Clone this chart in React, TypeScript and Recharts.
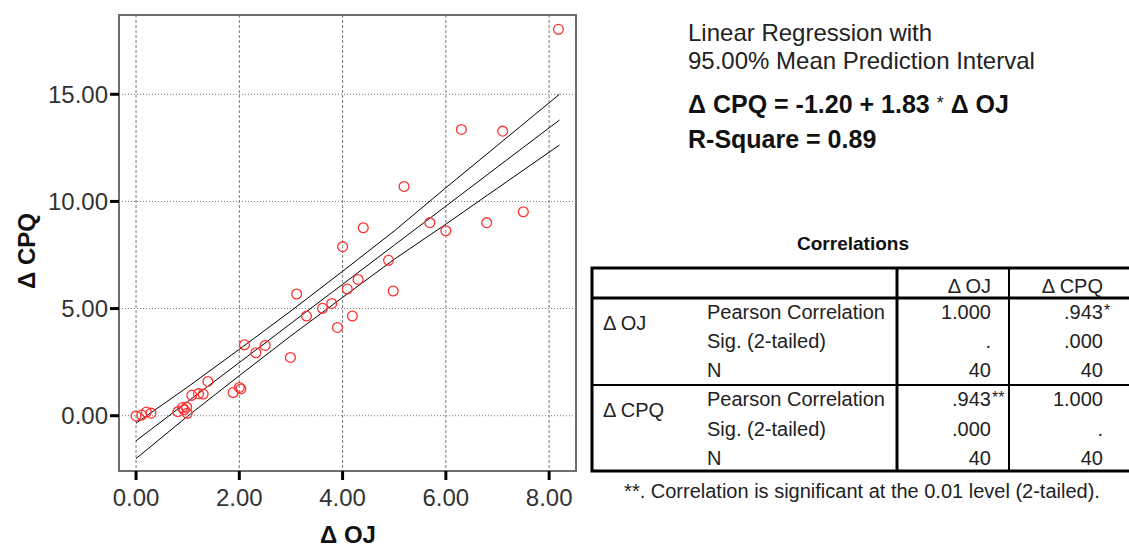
import React from "react";
import {
  ComposedChart,
  Scatter,
  Line,
  XAxis,
  YAxis,
  CartesianGrid,
  ReferenceArea,
} from "recharts";

// Scatter data: ΔOJ (x) vs ΔCPQ (y)
const ojValues = [
  0.0, 0.11, 0.2, 0.29, 0.81, 0.9, 0.98, 0.99, 0.93, 1.08,
  1.21, 1.3, 1.39, 1.88, 2.0, 2.03, 2.1, 2.32, 2.5, 2.99,
  3.11, 3.3, 3.61, 3.79, 3.9, 4.0, 4.09, 4.19, 4.3, 4.4,
  4.89, 4.98, 5.19, 5.69, 6.0, 6.3, 6.79, 7.1, 7.5, 8.18,
];
const cpqValues = [
  -0.01, 0.03, 0.17, 0.12, 0.19, 0.38, 0.4, 0.11, 0.28, 0.95,
  1.03, 1.01, 1.6, 1.08, 1.32, 1.25, 3.31, 2.94, 3.28, 2.72,
  5.68, 4.65, 5.01, 5.24, 4.12, 7.89, 5.91, 4.65, 6.36, 8.77,
  7.25, 5.82, 10.7, 9.01, 8.63, 13.36, 9.01, 13.28, 9.52, 18.03,
];

// Regression fit and 95% mean prediction interval
const lineX = [0, 1, 2, 3, 4, 5, 6, 7, 8.2];
const fitValues = [-1.17, 0.66, 2.48, 4.31, 6.13, 7.96, 9.78, 11.61, 13.8];
const upperValues = [-0.35, 1.34, 3.1, 4.89, 6.74, 8.62, 10.64, 12.62, 15.0];
const lowerValues = [-2.0, -0.02, 1.87, 3.73, 5.52, 7.3, 8.94, 10.62, 12.63];

const xTicks = [0, 2, 4, 6, 8];
const yTicks = [0, 5, 10, 15];
const xDomain: [number, number] = [-0.33, 8.52];
const yDomain: [number, number] = [-2.58, 18.7];

// Right-hand texts
const titleLines = ["Linear Regression with", "95.00% Mean Prediction Interval"];
const equationMain = "Δ CPQ = -1.20 + 1.83 ";
const equationTail = " Δ OJ";
const rSquareText = "R-Square = 0.89";

// Correlations table
const tableTitle = "Correlations";
const colHeaders = ["Δ OJ", "Δ CPQ"];
const rowGroups = ["Δ OJ", "Δ CPQ"];
const statLabels = ["Pearson Correlation", "Sig. (2-tailed)", "N"];
const cellsOJ = [
  ["1.000", ""],
  [".", ""],
  ["40", ""],
];
const cellsCPQ = [
  [".943", "*"],
  [".000", ""],
  ["40", ""],
];
const cellsOJ2 = [
  [".943", "**"],
  [".000", ""],
  ["40", ""],
];
const cellsCPQ2 = [
  ["1.000", ""],
  [".", ""],
  ["40", ""],
];
const footnote = "**. Correlation is significant at the 0.01 level (2-tailed).";

const points = ojValues.map((x, i) => ({ x, y: cpqValues[i] }));
const lineData = lineX.map((x, i) => ({
  x,
  fit: fitValues[i],
  upper: upperValues[i],
  lower: lowerValues[i],
}));

const FONT = "'Liberation Sans', Arial, sans-serif";

const RedCircle = (props: any) => {
  const { cx, cy } = props;
  if (cx == null || cy == null) return null;
  return <circle cx={cx} cy={cy} r={4.9} fill="none" stroke="#ff3030" strokeWidth={1.3} />;
};

export default function App() {
  const rowBase1 = [319, 348, 377];
  const rowBase2 = [406, 436, 465];
  const col1Right = 991;
  const col2Right = 1103;
  return (
    <div
      style={{
        position: "absolute",
        left: 0,
        top: 0,
        width: 1129,
        height: 549,
        background: "#fff",
        overflow: "hidden",
      }}
    >
      <ComposedChart
        width={1129}
        height={549}
        margin={{ top: 15, right: 553, bottom: 0, left: 0 }}
        style={{ position: "absolute", left: 0, top: 0 }}
      >
        <CartesianGrid horizontal={false} stroke="#7a7a7a" strokeDasharray="3 2" />
        <CartesianGrid vertical={false} stroke="#7a7a7a" strokeDasharray="1 2" />
        <XAxis
          type="number"
          dataKey="x"
          domain={xDomain}
          ticks={xTicks}
          allowDataOverflow
          height={78}
          axisLine={false}
          tickLine={{ stroke: "#000", strokeWidth: 3 }}
          tickSize={9}
          tickMargin={9}
          tick={{ fontSize: 24, fill: "#333", fontFamily: FONT }}
          tickFormatter={(v: number) => v.toFixed(2)}
        />
        <YAxis
          type="number"
          dataKey="y"
          domain={yDomain}
          ticks={yTicks}
          allowDataOverflow
          width={119}
          axisLine={false}
          tickLine={{ stroke: "#000", strokeWidth: 3 }}
          tickSize={9}
          tickMargin={2}
          tick={{ fontSize: 24, fill: "#333", fontFamily: FONT }}
          tickFormatter={(v: number) => v.toFixed(2)}
        />
        <ReferenceArea
          x1={xDomain[0]}
          x2={xDomain[1]}
          y1={yDomain[0]}
          y2={yDomain[1]}
          fill="none"
          stroke="#6e6e6e"
          strokeWidth={2}
          ifOverflow="extendDomain"
        />
        <Line data={lineData} dataKey="upper" stroke="#000" strokeWidth={1} dot={false} isAnimationActive={false} />
        <Line data={lineData} dataKey="fit" stroke="#000" strokeWidth={1} dot={false} isAnimationActive={false} />
        <Line data={lineData} dataKey="lower" stroke="#000" strokeWidth={1} dot={false} isAnimationActive={false} />
        <Scatter data={points} shape={<RedCircle />} isAnimationActive={false} />
      </ComposedChart>

      <svg
        width={1129}
        height={549}
        style={{ position: "absolute", left: 0, top: 0, pointerEvents: "none" }}
        fontFamily={FONT}
      >
        {/* axis titles */}
        <text x={348} y={543} textAnchor="middle" fontSize={24} fontWeight="bold" fill="#111">
          Δ OJ
        </text>
        <text
          x={0}
          y={0}
          transform="translate(35,251) rotate(-90)"
          textAnchor="middle"
          fontSize={24}
          fontWeight="bold"
          fill="#111"
        >
          Δ CPQ
        </text>

        {/* regression text */}
        <text x={688} y={41} fontSize={24} fill="#222">{titleLines[0]}</text>
        <text x={688} y={69} fontSize={24} fill="#222">{titleLines[1]}</text>
        <text x={688} y={113} fontSize={25} fontWeight="bold" fill="#111">
          {equationMain}
          <tspan fontWeight="normal" fontSize={18} dy={-4}>*</tspan>
          <tspan dy={4}>{equationTail}</tspan>
        </text>
        <text x={688} y={148} fontSize={25} fontWeight="bold" fill="#111">{rSquareText}</text>

        {/* correlations table */}
        <text x={853} y={250} textAnchor="middle" fontSize={19} fontWeight="bold" fill="#111">
          {tableTitle}
        </text>
        <rect x={592} y={268} width={560} height={203} fill="none" stroke="#000" strokeWidth={3} />
        <line x1={592} y1={298} x2={1135} y2={298} stroke="#000" strokeWidth={3} />
        <line x1={592} y1={385} x2={1135} y2={385} stroke="#000" strokeWidth={2} />
        <line x1={897} y1={268} x2={897} y2={471} stroke="#000" strokeWidth={3} />
        <line x1={1009} y1={268} x2={1009} y2={471} stroke="#000" strokeWidth={2} />

        <text x={col1Right} y={293} textAnchor="end" fontSize={20} fill="#222">{colHeaders[0]}</text>
        <text x={col2Right} y={293} textAnchor="end" fontSize={20} fill="#222">{colHeaders[1]}</text>

        <text x={603} y={330} fontSize={20} fill="#222">{rowGroups[0]}</text>
        <text x={603} y={417} fontSize={20} fill="#222">{rowGroups[1]}</text>

        {statLabels.map((s, i) => (
          <text key={"a" + i} x={707} y={rowBase1[i]} fontSize={20} fill="#222">{s}</text>
        ))}
        {statLabels.map((s, i) => (
          <text key={"b" + i} x={707} y={rowBase2[i]} fontSize={20} fill="#222">{s}</text>
        ))}

        {cellsOJ.map((c, i) => (
          <text key={"c" + i} x={col1Right} y={rowBase1[i]} textAnchor="end" fontSize={20} fill="#222">{c[0]}</text>
        ))}
        {cellsCPQ.map((c, i) => (
          <text key={"d" + i} x={col2Right} y={rowBase1[i]} textAnchor="end" fontSize={20} fill="#222">{c[0]}</text>
        ))}
        {cellsCPQ.map((c, i) =>
          c[1] ? (
            <text key={"e" + i} x={col2Right + 1} y={rowBase1[i] - 3} fontSize={16} fill="#222">{c[1]}</text>
          ) : null
        )}
        {cellsOJ2.map((c, i) => (
          <text key={"f" + i} x={col1Right} y={rowBase2[i]} textAnchor="end" fontSize={20} fill="#222">{c[0]}</text>
        ))}
        {cellsOJ2.map((c, i) =>
          c[1] ? (
            <text key={"g" + i} x={col1Right + 1} y={rowBase2[i] - 3} fontSize={16} fill="#222">{c[1]}</text>
          ) : null
        )}
        {cellsCPQ2.map((c, i) => (
          <text key={"h" + i} x={col2Right} y={rowBase2[i]} textAnchor="end" fontSize={20} fill="#222">{c[0]}</text>
        ))}

        <text x={862} y={498} textAnchor="middle" fontSize={20} fill="#222">{footnote}</text>
      </svg>
    </div>
  );
}
